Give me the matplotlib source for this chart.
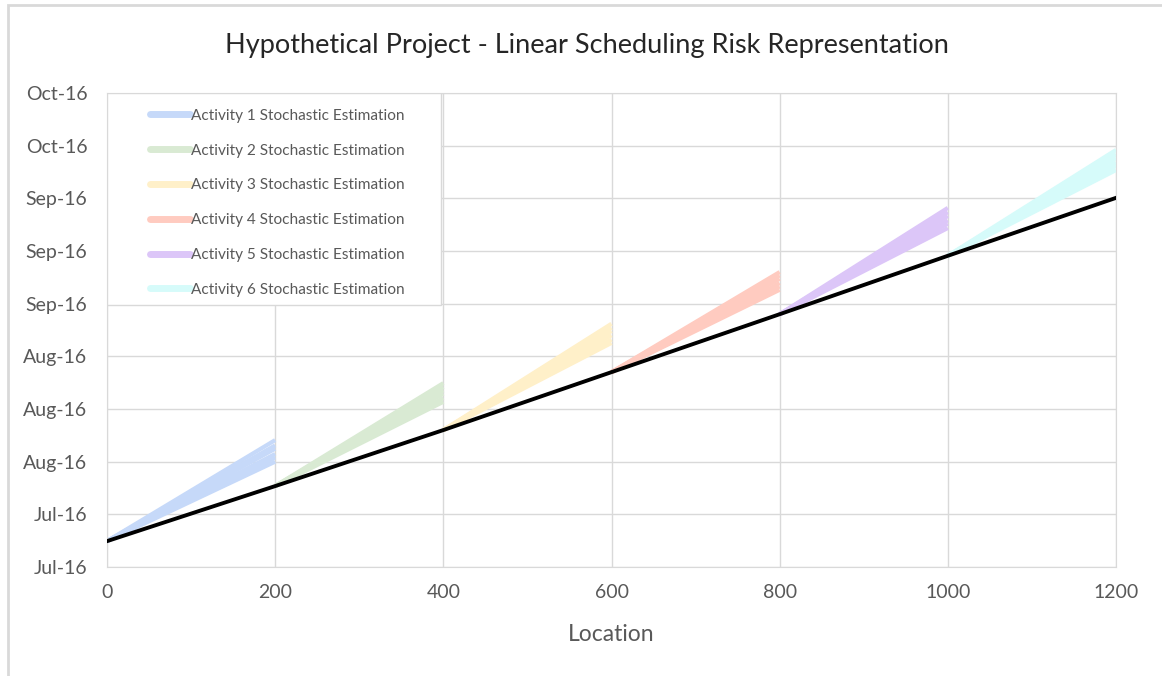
import datetime as dt
import numpy as np
import matplotlib
matplotlib.use('Agg')
from matplotlib import pyplot as plt
from matplotlib import dates as mdates
from matplotlib import patches as patches

plt.rcParams['font.family'] = ['Lato', 'DejaVu Sans']

# data: location (m) and days after the axis start date
start_date = dt.datetime(2016, 7, 15)
tick_step_days = 11
locations = [0, 200, 400, 600, 800, 1000, 1200]
baseline_days = [5.4, 16.9, 28.6, 40.7, 52.8, 65.0, 77.1]

activity_names = ['Activity %d Stochastic Estimation' % i for i in range(1, 7)]
activity_colors = ['#c6d9f9', '#d9ead3', '#fff0c9', '#ffcbc0', '#dcc6f8', '#d6fbfa']
# simulated finish dates (days) for each activity
activity1_end = [22.0, 22.9, 23.6, 24.7, 25.4, 26.5]
activity2_end = [34.5, 35.3, 36.2, 36.9, 37.6, 38.4]
activity3_end = [46.8, 47.5, 48.4, 49.3, 50.0, 50.8]
activity4_end = [57.9, 58.6, 59.3, 60.2, 60.9, 61.6]
activity5_end = [70.8, 71.7, 72.4, 73.3, 74.1, 75.0]
activity6_end = [82.9, 83.8, 84.5, 85.4, 86.2, 87.1]
activity_ends = [activity1_end, activity2_end, activity3_end,
                 activity4_end, activity5_end, activity6_end]

base = mdates.date2num(start_date)
grey = '#595959'
grid = '#d9d9d9'

fig = plt.figure(figsize=(11.62, 6.76), dpi=100)
ax = fig.add_axes([107 / 1162, 1 - 567 / 676, 1009 / 1162, 474 / 676])

handles = []
for k, ends in enumerate(activity_ends):
    x0, x1 = locations[k], locations[k + 1]
    y0 = base + baseline_days[k]
    for e in ends:
        ln, = ax.plot([x0, x1], [y0, base + e], color=activity_colors[k],
                      lw=3, solid_capstyle='butt', zorder=2)
    handles.append(ln)

ax.plot(locations, [base + d for d in baseline_days], color='black', lw=2.8,
        zorder=3)

ax.set_xlim(0, 1200)
ax.set_ylim(base, base + 9 * tick_step_days)
ax.set_xticks(locations)
ax.set_yticks([base + tick_step_days * i for i in range(10)])
ax.yaxis.set_major_formatter(mdates.DateFormatter('%b-%y'))
ax.grid(True, color=grid, lw=1)
ax.set_axisbelow(True)
for s in ax.spines.values():
    s.set_color(grid)
ax.tick_params(length=0, pad=14, labelsize=14, labelcolor=grey)
ax.tick_params(axis='x', pad=12)
ax.set_xlabel('Location', fontsize=16.5, color=grey, labelpad=17)
fig.text(0.505, 1 - 45 / 676, 'Hypothetical Project - Linear Scheduling Risk Representation',
         ha='center', va='center', fontsize=19.5, color='#262626')

# legend box
box = patches.Rectangle((0, 1 - 212 / 474), 334 / 1009, 212 / 474,
                        transform=ax.transAxes, fc='white', ec=grid, lw=1,
                        zorder=4)
ax.add_patch(box)
leg = ax.legend(handles, activity_names, loc='upper left',
                bbox_to_anchor=(35 / 1009, 0.983), frameon=False,
                borderpad=0, handlelength=2.6, handletextpad=0.1,
                labelspacing=1.35, fontsize=11.1)
leg.set_zorder(5)
for t in leg.get_texts():
    t.set_color(grey)
for h in leg.legend_handles:
    h.set_linewidth(5)
    h.set_solid_capstyle('round')

# outer chart frame
fig.add_artist(patches.Rectangle((8 / 1162, -0.1), 1.2, 1.1 - 5 / 676,
                                 transform=fig.transFigure, fill=False,
                                 ec=grid, lw=2))

fig.savefig('out.png', dpi=100)
